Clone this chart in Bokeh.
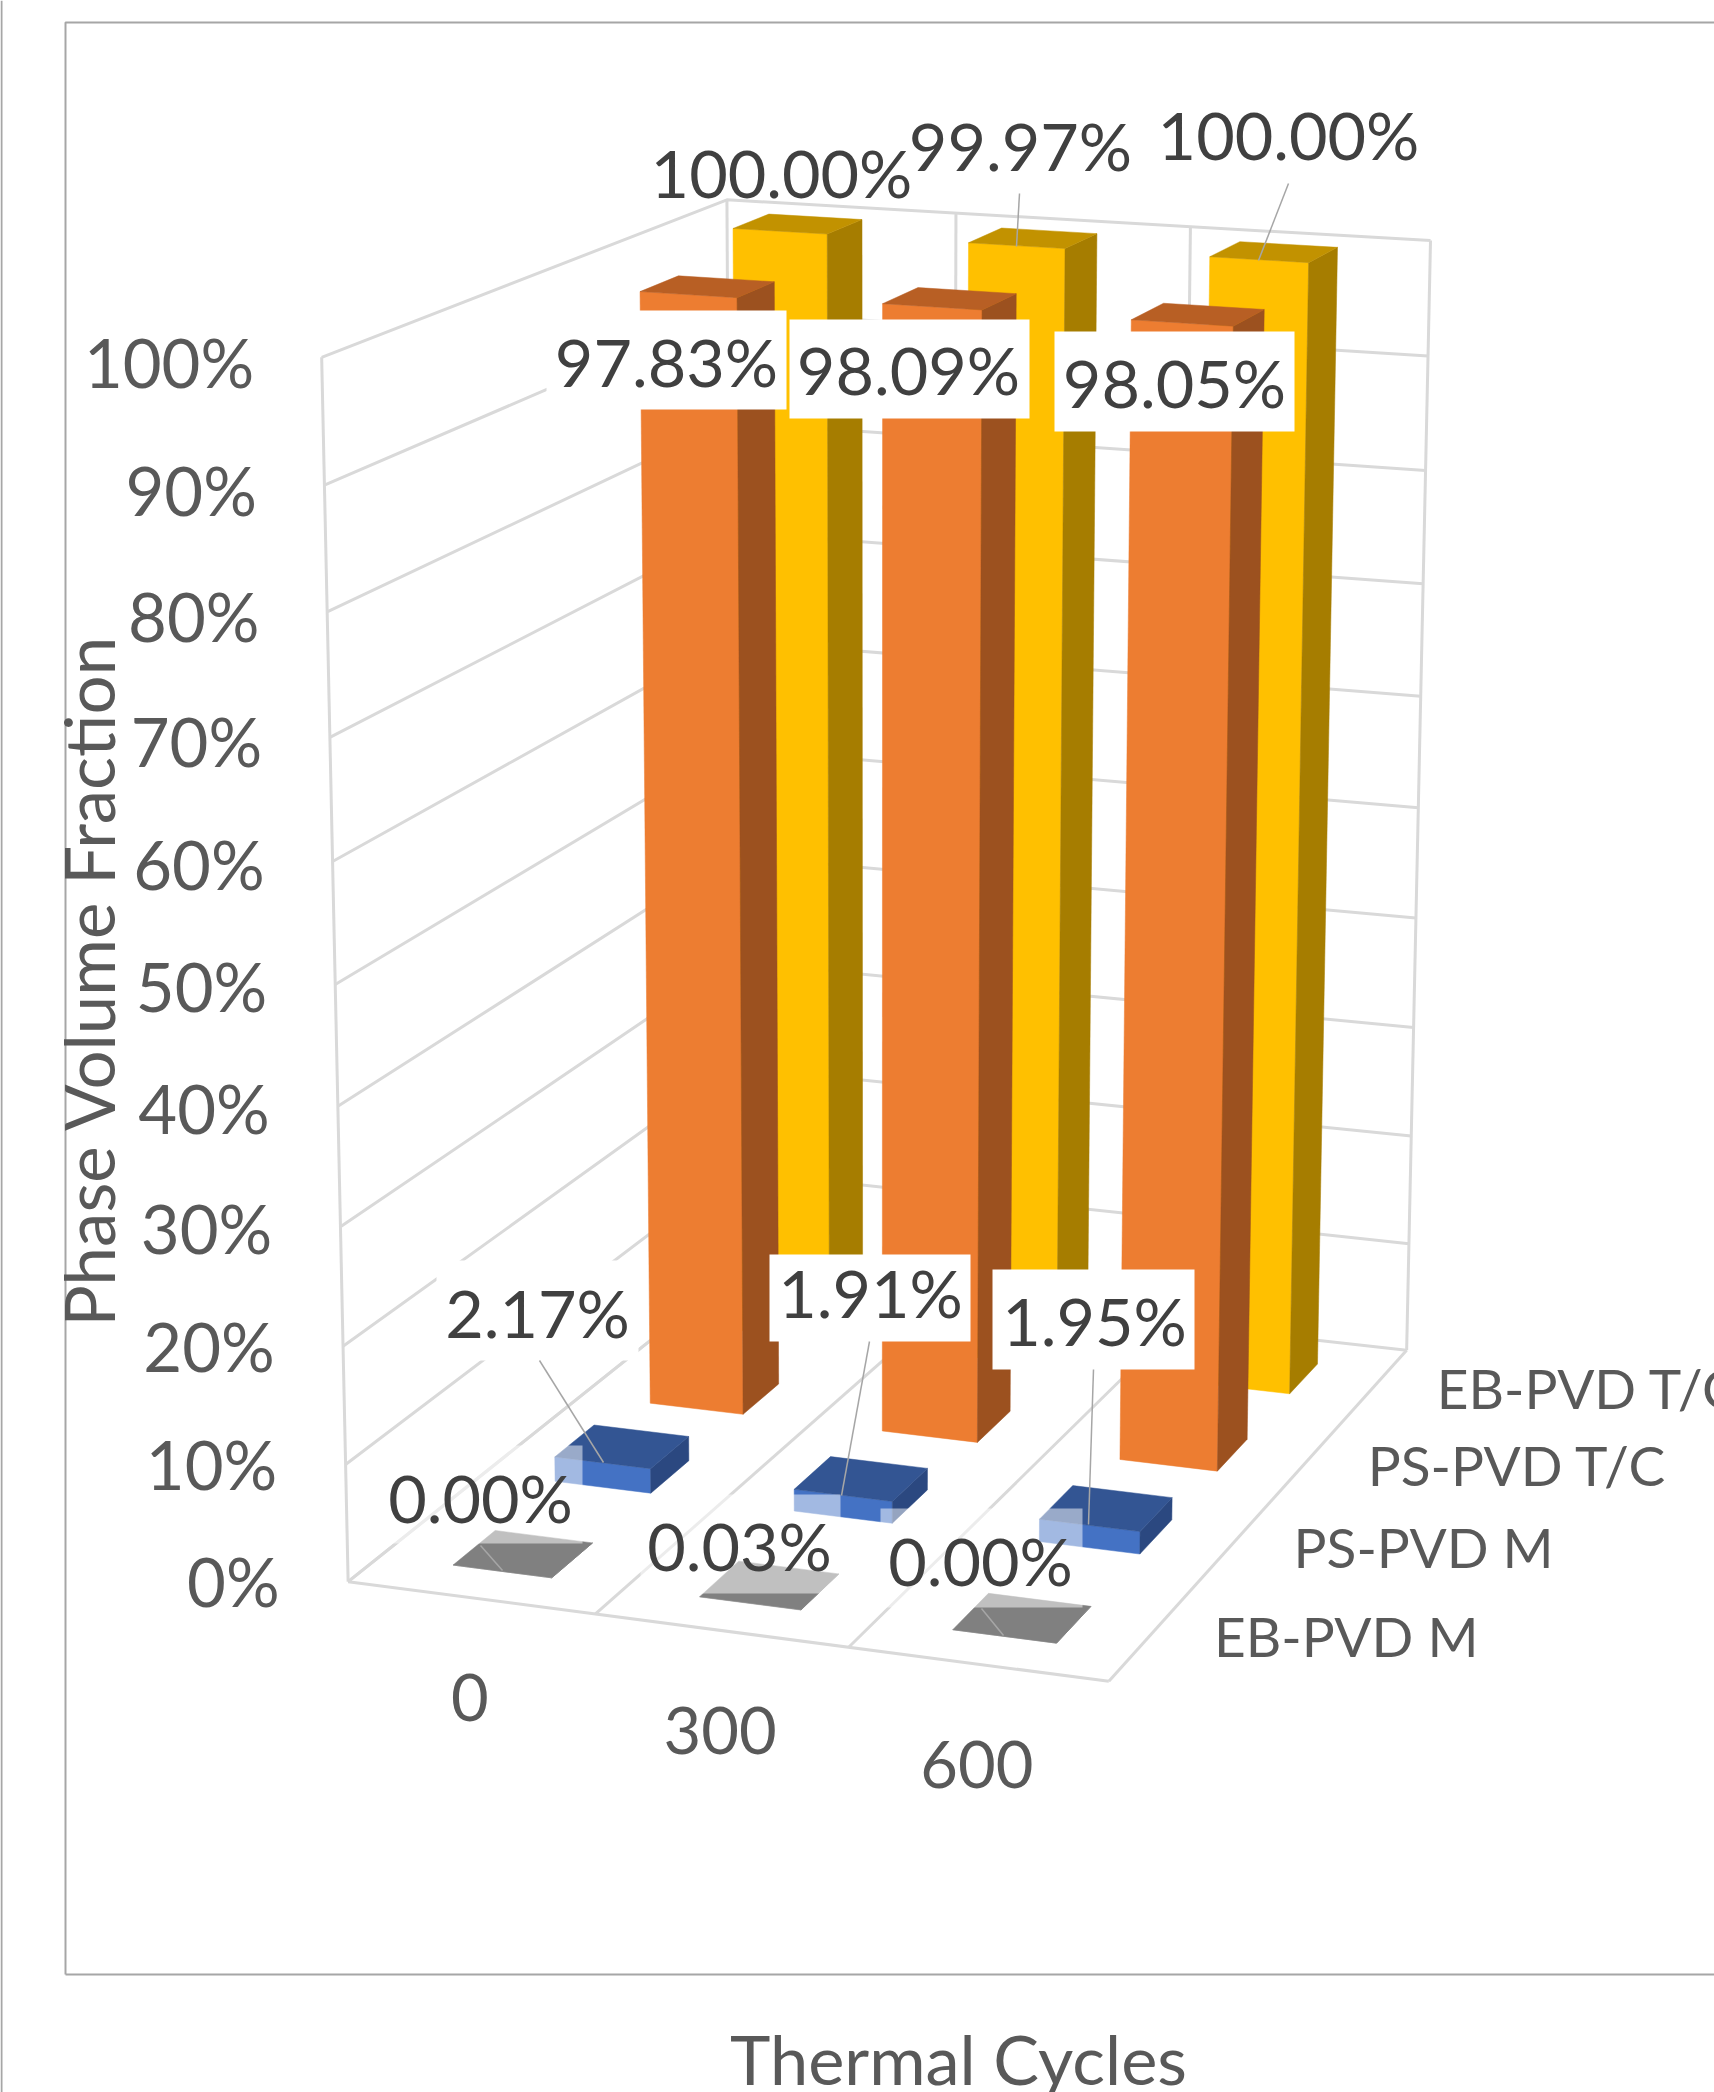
import numpy as np
from bokeh.core.properties import value
from bokeh.embed import file_html
from bokeh.models import ColumnDataSource, Range1d
from bokeh.plotting import figure
from bokeh.resources import INLINE

# Chart values (percent), one list per series, ordered front row to back row
cycles = ["0", "300", "600"]
series_names = ["EB-PVD M", "PS-PVD M", "PS-PVD T/C", "EB-PVD T/C"]
eb_pvd_m = [0.00, 0.03, 0.00]
ps_pvd_m = [2.17, 1.91, 1.95]
ps_pvd_tc = [97.83, 98.09, 98.05]
eb_pvd_tc = [100.00, 99.97, 100.00]
percent_ticks = [0, 10, 20, 30, 40, 50, 60, 70, 80, 90, 100]

W, H = 1714, 2092
FONT = value("Lato")
GRID = "#D9D9D9"
AXIS_TEXT = "#595959"
LABEL_TEXT = "#404040"
LEADER = "#A6A6A6"

# Perspective camera: (category, row, percent) -> page position.
# Solved by direct linear transform from the corners of the chart's box.
model_pts = np.array([
    (0, 0, 0), (3, 0, 0), (3, 4, 0), (0, 0, 100), (3, 4, 100), (0, 4, 100),
    (1, 0, 0), (2, 0, 0), (1, 4, 100), (2, 4, 100),
], dtype=float)
page_pts = np.array([
    (348, 1581), (1108, 1681), (1406, 1350), (321, 357), (1430, 240), (727, 200),
    (593, 1614), (850, 1646), (955, 211), (1190, 227),
], dtype=float)


def solve_camera(m, q):
    rows = []
    for (a, b, c), (x, y) in zip(m, q / 1000.0):
        c = c / 100.0
        rows.append([a, b, c, 1, 0, 0, 0, 0, -x * a, -x * b, -x * c, -x])
        rows.append([0, 0, 0, 0, a, b, c, 1, -y * a, -y * b, -y * c, -y])
    return np.linalg.svd(np.array(rows))[2][-1].reshape(3, 4)


CAM = solve_camera(model_pts, page_pts)


def project(u, v, pct):
    h = CAM @ np.array([u, v, pct / 100.0, 1.0])
    return h[0] / h[2] * 1000.0, h[1] / h[2] * 1000.0


def path(points):
    xy = [project(*pt) for pt in points]
    return [a for a, _ in xy], [b for _, b in xy]


p = figure(
    width=W, height=H, output_backend="svg", toolbar_location=None,
    x_range=Range1d(0, W), y_range=Range1d(H, 0),
    min_border=0, outline_line_color=None, background_fill_color="white",
)
p.axis.visible = False
p.grid.visible = False

# Outer frames
p.line([1, 1], [0, H], line_color="#A6A6A6", line_width=2)
p.line([65, 65, W], [1974, 22, 22], line_color="#A6A6A6", line_width=2)
p.line([65, W], [1974, 1974], line_color="#A6A6A6", line_width=2)

# Walls and floor of the box
wall_lines = []
for t in percent_ticks:
    wall_lines.append(path([(0, 0, t), (0, 4, t), (3, 4, t)]))
for u in range(4):
    wall_lines.append(path([(u, 0, 0), (u, 4, 0)]))
    wall_lines.append(path([(u, 4, 0), (u, 4, 100)]))
wall_lines.append(path([(0, 0, 0), (0, 0, 100)]))
wall_lines.append(path([(0, 0, 0), (3, 0, 0)]))
p.multi_line([a for a, _ in wall_lines], [b for _, b in wall_lines], line_color=GRID, line_width=3)

# Bars, drawn from the back row forward
rows = [
    (eb_pvd_tc, 3, "#FFC000", "#A67D00", "#C29200"),
    (ps_pvd_tc, 2, "#ED7D31", "#9C511F", "#B85F24"),
    (ps_pvd_m, 1, "#4472C4", "#2B4880", "#335593"),
    (eb_pvd_m, 0, "#A5A5A5", "#6B6B6B", "#808080"),
]
HALF_U, HALF_V = 0.2015, 0.202
for values, row, front, side, top in rows:
    xs, ys, colors = [], [], []
    for c, val in enumerate(values):
        u0, u1 = c + 0.5 - HALF_U, c + 0.5 + HALF_U
        v0, v1 = row + 0.5 - HALF_V, row + 0.5 + HALF_V
        faces = [
            ([(u0, v0, 0), (u1, v0, 0), (u1, v0, val), (u0, v0, val)], front),
            ([(u1, v0, 0), (u1, v1, 0), (u1, v1, val), (u1, v0, val)], side),
            ([(u0, v0, val), (u1, v0, val), (u1, v1, val), (u0, v1, val)], top),
        ]
        for pts, col in faces:
            a, b = path(pts)
            xs.append(a)
            ys.append(b)
            colors.append(col)
    p.patches(xs, ys, fill_color=colors, line_color=colors, line_width=0.5)

# Label boxes: left, right, top, bottom, opacity
label_boxes = [
    (546, 786, 310, 409, 1.0), (789, 1029, 319, 418, 1.0), (1054, 1294, 331, 431, 1.0),
    (436, 638, 1260, 1360, 1.0), (769, 970, 1254, 1341, 1.0), (992, 1194, 1269, 1369, 1.0),
    (382, 582, 1445, 1543, 0.5), (640, 840, 1494, 1593, 0.5), (880, 1082, 1508, 1607, 0.5),
]
p.quad(
    left=[b[0] for b in label_boxes], right=[b[1] for b in label_boxes],
    top=[b[2] for b in label_boxes], bottom=[b[3] for b in label_boxes],
    fill_color="white", fill_alpha=[b[4] for b in label_boxes], line_color=None,
)

# Leader lines from the labels to their bars
leaders = [
    ((1019, 193), (1016, 246)), ((1288, 183), (1258, 260)),
    ((539, 1360), (603, 1462)), ((869, 1341), (841, 1495)), ((1093, 1369), (1088, 1524)),
    ((480, 1545), (502, 1570)), ((981, 1608), (1003, 1635)),
]
p.multi_line(
    [[a[0], b[0]] for a, b in leaders], [[a[1], b[1]] for a, b in leaders],
    line_color=LEADER, line_width=1.5,
)

# Value labels
label_anchor = [
    (781, 171), (1020, 144), (1288, 133),
    (666, 360), (908, 368), (1174, 381),
    (537, 1311), (870, 1291), (1094, 1319),
    (480, 1496), (739, 1544), (980, 1559),
]
label_values = eb_pvd_tc + ps_pvd_tc + ps_pvd_m + eb_pvd_m
labels = ColumnDataSource(dict(
    x=[a for a, _ in label_anchor], y=[b for _, b in label_anchor],
    text=[f"{v:.2f}%" for v in label_values],
))
p.text(x="x", y="y", text="text", source=labels, text_font=FONT, text_font_size="66.5px",
       text_color=LABEL_TEXT, text_align="center", text_baseline="middle")

# Value axis tick labels along the front wall edge
tick_xy = [project(0, 0, t) for t in percent_ticks]
p.text(x=[a - 67.5 - (1 - t / 100) for (a, _), t in zip(tick_xy, percent_ticks)],
       y=[b + 5 - 6 * (1 - t / 100) for (_, b), t in zip(tick_xy, percent_ticks)],
       text=[f"{t}%" for t in percent_ticks], text_font=FONT, text_font_size="67px",
       text_color=AXIS_TEXT, text_align="right", text_baseline="middle")

# Category labels under the front edge
cat_xy = [project(c + 0.5, 0, 0) for c in range(3)]
p.text(x=[a - 1 for a, _ in cat_xy], y=[b + 100 for _, b in cat_xy], text=cycles,
       text_font=FONT, text_font_size="65px", text_color=AXIS_TEXT,
       text_align="center", text_baseline="middle")

# Series labels beside the right edge of the floor
row_xy = [project(3, r + 0.5, 0) for r in range(4)]
p.text(x=[a + 63 for a, _ in row_xy], y=[b + 1 for _, b in row_xy], text=series_names,
       text_font=FONT, text_font_size="55px", text_color=AXIS_TEXT,
       text_align="left", text_baseline="middle")

# Axis titles
p.text(x=[88], y=[980], text=["Phase Volume Fraction"], angle=np.pi / 2, text_font=FONT,
       text_font_size="69px", text_color=AXIS_TEXT, text_align="center", text_baseline="middle")
p.text(x=[958], y=[2058], text=["Thermal Cycles"], text_font=FONT, text_font_size="68.5px",
       text_color=AXIS_TEXT, text_align="center", text_baseline="middle")

open("out.html", "w").write(file_html(p, INLINE))
